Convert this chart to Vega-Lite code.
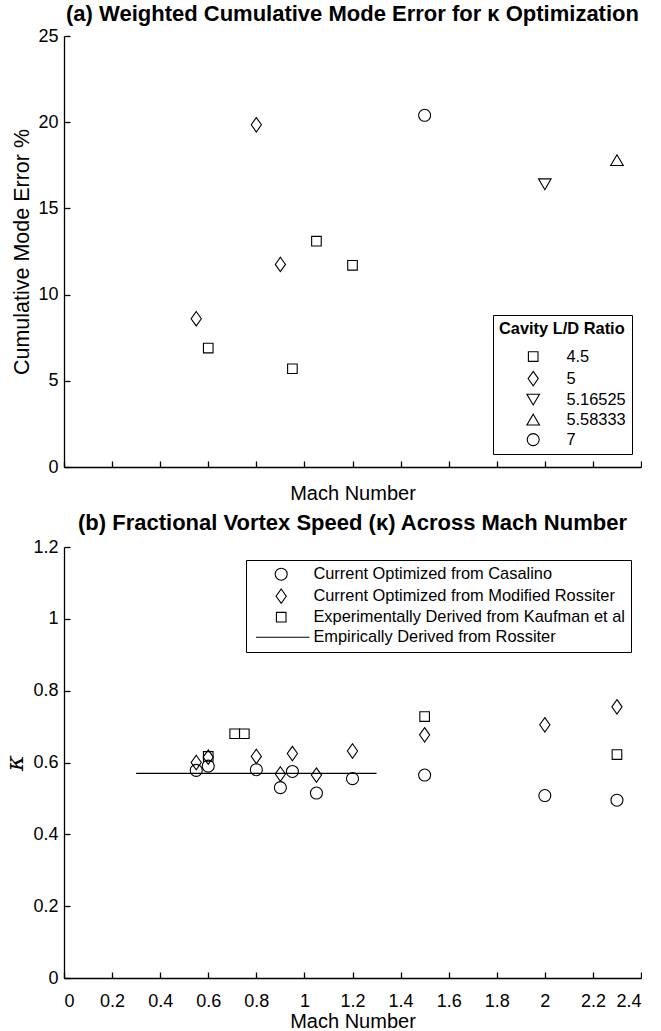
{
  "$schema": "https://vega.github.io/schema/vega-lite/v6.json",
  "background": "white",
  "padding": {"left": 3, "top": 3, "right": 0, "bottom": 0},
  "spacing": 8,
  "config": {
    "view": {"stroke": null},
    "font": "Liberation Sans",
    "axis": {"grid": false, "domainColor": "black", "domainWidth": 1.3, "tickColor": "black", "tickWidth": 1.3, "tickSize": -6, "labelColor": "black", "labelFontSize": 18, "labelPadding": 12, "titleColor": "black", "titleFontSize": 20, "titleFontWeight": "normal", "labelFont": "Liberation Sans", "titleFont": "Liberation Sans"},
    "title": {"fontSize": 22, "fontWeight": "bold", "color": "black", "offset": 3, "font": "Liberation Sans"},
    "legend": {"strokeColor": "black", "fillColor": "white", "labelColor": "black", "labelFontSize": 16.4, "labelFont": "Liberation Sans", "labelLimit": 0, "titleColor": "black", "titleFont": "Liberation Sans", "titleLimit": 0, "symbolStrokeColor": "black", "symbolStrokeWidth": 1.1, "symbolFillColor": "transparent", "symbolSize": 144}
  },
  "vconcat": [
    {
      "width": 577,
      "height": 431,
      "title": {"text": "(a) Weighted Cumulative Mode Error for κ Optimization", "offset": 1},
      "data": {"values": [
        {"mach": 0.55, "err": 8.6, "ld": "5"},
        {"mach": 0.6, "err": 6.9, "ld": "4.5"},
        {"mach": 0.8, "err": 19.85, "ld": "5"},
        {"mach": 0.9, "err": 11.75, "ld": "5"},
        {"mach": 0.95, "err": 5.7, "ld": "4.5"},
        {"mach": 1.05, "err": 13.1, "ld": "4.5"},
        {"mach": 1.2, "err": 11.7, "ld": "4.5"},
        {"mach": 1.5, "err": 20.4, "ld": "7"},
        {"mach": 2.0, "err": 16.4, "ld": "5.16525"},
        {"mach": 2.3, "err": 17.8, "ld": "5.58333"}
      ]},
      "mark": {"type": "point", "filled": false, "color": "black", "strokeWidth": 1.1, "size": 144, "opacity": 1},
      "encoding": {
        "x": {"field": "mach", "type": "quantitative", "scale": {"domain": [0, 2.4], "nice": false, "zero": false},
          "axis": {"values": [0, 0.2, 0.4, 0.6, 0.8, 1, 1.2, 1.4, 1.6, 1.8, 2, 2.2, 2.4], "labels": false, "title": "Mach Number", "titlePadding": 16}},
        "y": {"field": "err", "type": "quantitative", "scale": {"domain": [0, 25], "nice": false},
          "axis": {"values": [0, 5, 10, 15, 20, 25], "title": "Cumulative Mode Error %", "titlePadding": 4, "titleFontSize": 21.5}},
        "shape": {"field": "ld", "type": "nominal", "sort": ["4.5", "5", "5.16525", "5.58333", "7"],
          "scale": {"domain": ["4.5", "5", "5.16525", "5.58333", "7"], "range": ["M-0.8,-0.8L0.8,-0.8L0.8,0.8L-0.8,0.8Z", "M0,-1.2L0.85,0L0,1.2L-0.85,0Z", "M0,0.9L1.05,-0.9L-1.05,-0.9Z", "M0,-0.9L1.05,0.9L-1.05,0.9Z", "circle"]},
          "legend": {"title": "Cavity L/D Ratio", "orient": "none", "legendX": 429, "legendY": 279, "padding": 6, "titleFontSize": 16.4, "titleFontWeight": "bold", "titlePadding": 11, "labelOffset": 25, "symbolOffset": 26, "rowPadding": 3.0}}
      }
    },
    {
      "width": 577,
      "height": 431,
      "title": {"text": "(b) Fractional Vortex Speed (κ) Across Mach Number", "offset": 3},
      "layer": [
        {
          "data": {"values": [
            {"mach": 0.3, "kappa": 0.57},
            {"mach": 1.3, "kappa": 0.57}
          ]},
          "mark": {"type": "line", "color": "black", "strokeWidth": 1.2},
          "encoding": {
            "x": {"field": "mach", "type": "quantitative"},
            "y": {"field": "kappa", "type": "quantitative"}
          }
        },
        {
          "data": {"values": [
            {"mach": 0.55, "kappa": 0.578, "src": "Current Optimized from Casalino"},
            {"mach": 0.6, "kappa": 0.59, "src": "Current Optimized from Casalino"},
            {"mach": 0.8, "kappa": 0.58, "src": "Current Optimized from Casalino"},
            {"mach": 0.9, "kappa": 0.53, "src": "Current Optimized from Casalino"},
            {"mach": 0.95, "kappa": 0.575, "src": "Current Optimized from Casalino"},
            {"mach": 1.05, "kappa": 0.515, "src": "Current Optimized from Casalino"},
            {"mach": 1.2, "kappa": 0.555, "src": "Current Optimized from Casalino"},
            {"mach": 1.5, "kappa": 0.565, "src": "Current Optimized from Casalino"},
            {"mach": 2.0, "kappa": 0.508, "src": "Current Optimized from Casalino"},
            {"mach": 2.3, "kappa": 0.495, "src": "Current Optimized from Casalino"},
            {"mach": 0.55, "kappa": 0.6, "src": "Current Optimized from Modified Rossiter"},
            {"mach": 0.6, "kappa": 0.615, "src": "Current Optimized from Modified Rossiter"},
            {"mach": 0.8, "kappa": 0.617, "src": "Current Optimized from Modified Rossiter"},
            {"mach": 0.9, "kappa": 0.568, "src": "Current Optimized from Modified Rossiter"},
            {"mach": 0.95, "kappa": 0.625, "src": "Current Optimized from Modified Rossiter"},
            {"mach": 1.05, "kappa": 0.565, "src": "Current Optimized from Modified Rossiter"},
            {"mach": 1.2, "kappa": 0.632, "src": "Current Optimized from Modified Rossiter"},
            {"mach": 1.5, "kappa": 0.677, "src": "Current Optimized from Modified Rossiter"},
            {"mach": 2.0, "kappa": 0.705, "src": "Current Optimized from Modified Rossiter"},
            {"mach": 2.3, "kappa": 0.755, "src": "Current Optimized from Modified Rossiter"},
            {"mach": 0.6, "kappa": 0.617, "src": "Experimentally Derived from Kaufman et al"},
            {"mach": 0.71, "kappa": 0.68, "src": "Experimentally Derived from Kaufman et al"},
            {"mach": 0.75, "kappa": 0.68, "src": "Experimentally Derived from Kaufman et al"},
            {"mach": 1.5, "kappa": 0.728, "src": "Experimentally Derived from Kaufman et al"},
            {"mach": 2.3, "kappa": 0.622, "src": "Experimentally Derived from Kaufman et al"}
          ]},
          "mark": {"type": "point", "filled": false, "color": "black", "strokeWidth": 1.1, "size": 144, "opacity": 1},
          "encoding": {
            "x": {"field": "mach", "type": "quantitative"},
            "y": {"field": "kappa", "type": "quantitative"},
            "shape": {"field": "src", "type": "nominal",
              "sort": ["Current Optimized from Casalino", "Current Optimized from Modified Rossiter", "Experimentally Derived from Kaufman et al", "Empirically Derived from Rossiter"],
              "scale": {"domain": ["Current Optimized from Casalino", "Current Optimized from Modified Rossiter", "Experimentally Derived from Kaufman et al", "Empirically Derived from Rossiter"],
                "range": ["circle", "M0,-1.2L0.85,0L0,1.2L-0.85,0Z", "M-0.8,-0.8L0.8,-0.8L0.8,0.8L-0.8,0.8Z", "M-4.2,0L4.7,0"]},
              "legend": {"title": null, "orient": "none", "legendX": 182, "legendY": 13, "padding": 6, "labelOffset": 24, "symbolOffset": 21, "rowPadding": 3.0}}
          }
        }
      ],
      "encoding": {
        "x": {"field": "mach", "type": "quantitative", "scale": {"domain": [0, 2.4], "nice": false, "zero": false},
          "axis": {"values": [0, 0.2, 0.4, 0.6, 0.8, 1, 1.2, 1.4, 1.6, 1.8, 2, 2.2, 2.4], "format": "~g", "title": "Mach Number", "labelPadding": 20, "titlePadding": 1}},
        "y": {"field": "kappa", "type": "quantitative", "scale": {"domain": [0, 1.2], "nice": false, "zero": false},
          "axis": {"values": [0, 0.2, 0.4, 0.6, 0.8, 1, 1.2], "format": "~g", "title": "κ", "titleFont": "DejaVu Serif", "titleFontStyle": "italic", "titleFontSize": 24, "titlePadding": 5}}
      }
    }
  ],
  "resolve": {"scale": {"x": "independent", "y": "independent", "shape": "independent"}, "legend": {"shape": "independent"}}
}
